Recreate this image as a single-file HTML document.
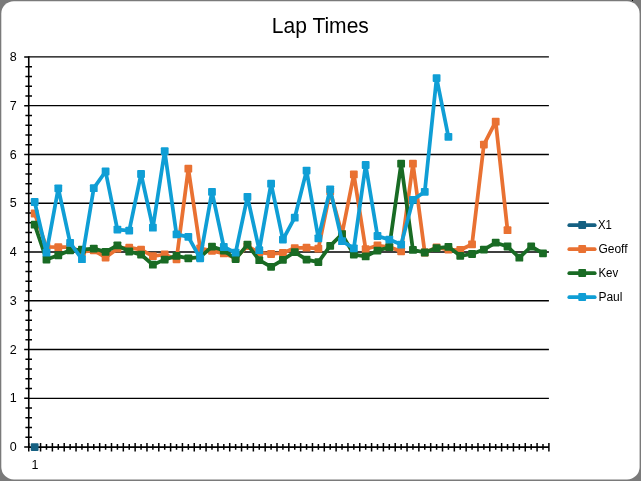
<!DOCTYPE html><html><head><meta charset="utf-8"><style>html,body{margin:0;padding:0;background:#7a7a7a;}svg{display:block;will-change:transform}text{font-family:"Liberation Sans",sans-serif;}</style></head><body>
<svg width="641" height="481" viewBox="0 0 641 481">
<rect x="0" y="0" width="641" height="481" fill="#7a7a7a"/>
<rect x="1.3" y="1.2" width="638.3" height="478.3" rx="12.5" ry="12.5" fill="#ffffff"/>
<rect x="632" y="0" width="1" height="1" fill="#000"/>
<text x="320.35" y="33" font-size="22" text-anchor="middle" textLength="97" lengthAdjust="spacingAndGlyphs" fill="#000" id="title">Lap Times</text>
<path d="M28.75 398.33H548.90M28.75 349.55H548.90M28.75 300.77H548.90M28.75 252.00H548.90M28.75 203.22H548.90M28.75 154.45H548.90M28.75 105.67H548.90M28.75 56.90H548.90" stroke="#000" stroke-width="1.4" fill="none"/>
<path d="M24.2 447.10H28.75M24.2 398.33H28.75M24.2 349.55H28.75M24.2 300.77H28.75M24.2 252.00H28.75M24.2 203.22H28.75M24.2 154.45H28.75M24.2 105.67H28.75M24.2 56.90H28.75M25.4 437.35H32.0M25.4 427.59H32.0M25.4 417.84H32.0M25.4 408.08H32.0M25.4 388.57H32.0M25.4 378.82H32.0M25.4 369.06H32.0M25.4 359.31H32.0M25.4 339.80H32.0M25.4 330.04H32.0M25.4 320.28H32.0M25.4 310.53H32.0M25.4 291.02H32.0M25.4 281.26H32.0M25.4 271.51H32.0M25.4 261.75H32.0M25.4 242.24H32.0M25.4 232.49H32.0M25.4 222.74H32.0M25.4 212.98H32.0M25.4 193.47H32.0M25.4 183.71H32.0M25.4 173.96H32.0M25.4 164.20H32.0M25.4 144.69H32.0M25.4 134.94H32.0M25.4 125.19H32.0M25.4 115.43H32.0M25.4 95.92H32.0M25.4 86.16H32.0M25.4 76.41H32.0M25.4 66.65H32.0M28.75 442.9V451.6M40.57 442.9V451.6M52.39 442.9V451.6M64.21 442.9V451.6M76.04 442.9V451.6M87.86 442.9V451.6M99.68 442.9V451.6M111.50 442.9V451.6M123.32 442.9V451.6M135.14 442.9V451.6M146.97 442.9V451.6M158.79 442.9V451.6M170.61 442.9V451.6M182.43 442.9V451.6M194.25 442.9V451.6M206.07 442.9V451.6M217.90 442.9V451.6M229.72 442.9V451.6M241.54 442.9V451.6M253.36 442.9V451.6M265.18 442.9V451.6M277.00 442.9V451.6M288.82 442.9V451.6M300.65 442.9V451.6M312.47 442.9V451.6M324.29 442.9V451.6M336.11 442.9V451.6M347.93 442.9V451.6M359.75 442.9V451.6M371.58 442.9V451.6M383.40 442.9V451.6M395.22 442.9V451.6M407.04 442.9V451.6M418.86 442.9V451.6M430.68 442.9V451.6M442.51 442.9V451.6M454.33 442.9V451.6M466.15 442.9V451.6M477.97 442.9V451.6M489.79 442.9V451.6M501.61 442.9V451.6M513.44 442.9V451.6M525.26 442.9V451.6M537.08 442.9V451.6M548.90 442.9V451.6M34.66 443.9V449.7M46.48 443.9V449.7M58.30 443.9V449.7M70.13 443.9V449.7M81.95 443.9V449.7M93.77 443.9V449.7M105.59 443.9V449.7M117.41 443.9V449.7M129.23 443.9V449.7M141.06 443.9V449.7M152.88 443.9V449.7M164.70 443.9V449.7M176.52 443.9V449.7M188.34 443.9V449.7M200.16 443.9V449.7M211.98 443.9V449.7M223.81 443.9V449.7M235.63 443.9V449.7M247.45 443.9V449.7M259.27 443.9V449.7M271.09 443.9V449.7M282.91 443.9V449.7M294.74 443.9V449.7M306.56 443.9V449.7M318.38 443.9V449.7M330.20 443.9V449.7M342.02 443.9V449.7M353.84 443.9V449.7M365.67 443.9V449.7M377.49 443.9V449.7M389.31 443.9V449.7M401.13 443.9V449.7M412.95 443.9V449.7M424.77 443.9V449.7M436.59 443.9V449.7M448.42 443.9V449.7M460.24 443.9V449.7M472.06 443.9V449.7M483.88 443.9V449.7M495.70 443.9V449.7M507.52 443.9V449.7M519.35 443.9V449.7M531.17 443.9V449.7M542.99 443.9V449.7" stroke="#000" stroke-width="1.5" fill="none"/>
<path d="M28.75 56.20V447.10H548.90" stroke="#000" stroke-width="1.6" fill="none"/>
<text x="16.6" y="451.20" font-size="12.5" text-anchor="end" fill="#000">0</text>
<text x="16.6" y="402.43" font-size="12.5" text-anchor="end" fill="#000">1</text>
<text x="16.6" y="353.65" font-size="12.5" text-anchor="end" fill="#000">2</text>
<text x="16.6" y="304.88" font-size="12.5" text-anchor="end" fill="#000">3</text>
<text x="16.6" y="256.10" font-size="12.5" text-anchor="end" fill="#000">4</text>
<text x="16.6" y="207.32" font-size="12.5" text-anchor="end" fill="#000">5</text>
<text x="16.6" y="158.55" font-size="12.5" text-anchor="end" fill="#000">6</text>
<text x="16.6" y="109.77" font-size="12.5" text-anchor="end" fill="#000">7</text>
<text x="16.6" y="61.00" font-size="12.5" text-anchor="end" fill="#000">8</text>
<text x="35" y="468.6" font-size="12.5" text-anchor="middle" fill="#000">1</text>
<rect x="30.76" y="443.20" width="7.8" height="7.8" rx="0.9" fill="#156082"/>
<polyline points="34.66,213.50 46.48,247.00 58.30,247.20 70.13,247.00 81.95,252.00 93.77,250.30 105.59,257.50 117.41,248.70 129.23,247.70 141.06,249.70 152.88,256.20 164.70,254.50 176.52,259.30 188.34,168.70 200.16,248.30 211.98,250.80 223.81,253.40 235.63,258.00 247.45,246.20 259.27,252.50 271.09,254.00 282.91,253.00 294.74,248.10 306.56,247.70 318.38,248.70 330.20,191.20 342.02,234.00 353.84,174.40 365.67,249.20 377.49,245.50 389.31,247.00 401.13,251.30 412.95,163.70 424.77,252.50 436.59,247.50 448.42,249.60 460.24,250.00 472.06,244.30 483.88,144.60 495.70,121.70 507.52,230.20" fill="none" stroke="#E97132" stroke-width="3.75" stroke-linejoin="round" stroke-linecap="round"/><rect x="30.76" y="209.60" width="7.8" height="7.8" rx="0.9" fill="#E97132"/><rect x="42.58" y="243.10" width="7.8" height="7.8" rx="0.9" fill="#E97132"/><rect x="54.40" y="243.30" width="7.8" height="7.8" rx="0.9" fill="#E97132"/><rect x="66.23" y="243.10" width="7.8" height="7.8" rx="0.9" fill="#E97132"/><rect x="78.05" y="248.10" width="7.8" height="7.8" rx="0.9" fill="#E97132"/><rect x="89.87" y="246.40" width="7.8" height="7.8" rx="0.9" fill="#E97132"/><rect x="101.69" y="253.60" width="7.8" height="7.8" rx="0.9" fill="#E97132"/><rect x="113.51" y="244.80" width="7.8" height="7.8" rx="0.9" fill="#E97132"/><rect x="125.33" y="243.80" width="7.8" height="7.8" rx="0.9" fill="#E97132"/><rect x="137.16" y="245.80" width="7.8" height="7.8" rx="0.9" fill="#E97132"/><rect x="148.98" y="252.30" width="7.8" height="7.8" rx="0.9" fill="#E97132"/><rect x="160.80" y="250.60" width="7.8" height="7.8" rx="0.9" fill="#E97132"/><rect x="172.62" y="255.40" width="7.8" height="7.8" rx="0.9" fill="#E97132"/><rect x="184.44" y="164.80" width="7.8" height="7.8" rx="0.9" fill="#E97132"/><rect x="196.26" y="244.40" width="7.8" height="7.8" rx="0.9" fill="#E97132"/><rect x="208.08" y="246.90" width="7.8" height="7.8" rx="0.9" fill="#E97132"/><rect x="219.91" y="249.50" width="7.8" height="7.8" rx="0.9" fill="#E97132"/><rect x="231.73" y="254.10" width="7.8" height="7.8" rx="0.9" fill="#E97132"/><rect x="243.55" y="242.30" width="7.8" height="7.8" rx="0.9" fill="#E97132"/><rect x="255.37" y="248.60" width="7.8" height="7.8" rx="0.9" fill="#E97132"/><rect x="267.19" y="250.10" width="7.8" height="7.8" rx="0.9" fill="#E97132"/><rect x="279.01" y="249.10" width="7.8" height="7.8" rx="0.9" fill="#E97132"/><rect x="290.84" y="244.20" width="7.8" height="7.8" rx="0.9" fill="#E97132"/><rect x="302.66" y="243.80" width="7.8" height="7.8" rx="0.9" fill="#E97132"/><rect x="314.48" y="244.80" width="7.8" height="7.8" rx="0.9" fill="#E97132"/><rect x="326.30" y="187.30" width="7.8" height="7.8" rx="0.9" fill="#E97132"/><rect x="338.12" y="230.10" width="7.8" height="7.8" rx="0.9" fill="#E97132"/><rect x="349.94" y="170.50" width="7.8" height="7.8" rx="0.9" fill="#E97132"/><rect x="361.77" y="245.30" width="7.8" height="7.8" rx="0.9" fill="#E97132"/><rect x="373.59" y="241.60" width="7.8" height="7.8" rx="0.9" fill="#E97132"/><rect x="385.41" y="243.10" width="7.8" height="7.8" rx="0.9" fill="#E97132"/><rect x="397.23" y="247.40" width="7.8" height="7.8" rx="0.9" fill="#E97132"/><rect x="409.05" y="159.80" width="7.8" height="7.8" rx="0.9" fill="#E97132"/><rect x="420.87" y="248.60" width="7.8" height="7.8" rx="0.9" fill="#E97132"/><rect x="432.69" y="243.60" width="7.8" height="7.8" rx="0.9" fill="#E97132"/><rect x="444.52" y="245.70" width="7.8" height="7.8" rx="0.9" fill="#E97132"/><rect x="456.34" y="246.10" width="7.8" height="7.8" rx="0.9" fill="#E97132"/><rect x="468.16" y="240.40" width="7.8" height="7.8" rx="0.9" fill="#E97132"/><rect x="479.98" y="140.70" width="7.8" height="7.8" rx="0.9" fill="#E97132"/><rect x="491.80" y="117.80" width="7.8" height="7.8" rx="0.9" fill="#E97132"/><rect x="503.62" y="226.30" width="7.8" height="7.8" rx="0.9" fill="#E97132"/>
<polyline points="34.66,224.70 46.48,259.50 58.30,255.30 70.13,250.30 81.95,249.70 93.77,248.60 105.59,251.80 117.41,245.30 129.23,251.50 141.06,254.60 152.88,264.70 164.70,259.60 176.52,255.80 188.34,258.30 200.16,257.20 211.98,246.60 223.81,250.50 235.63,259.10 247.45,244.60 259.27,260.20 271.09,266.80 282.91,259.80 294.74,252.10 306.56,259.60 318.38,262.10 330.20,245.80 342.02,234.20 353.84,254.60 365.67,256.40 377.49,250.60 389.31,247.20 401.13,163.70 412.95,249.90 424.77,252.50 436.59,248.10 448.42,246.80 460.24,255.80 472.06,254.00 483.88,249.60 495.70,242.70 507.52,246.50 519.35,257.70 531.17,246.50 542.99,253.30" fill="none" stroke="#196B24" stroke-width="3.75" stroke-linejoin="round" stroke-linecap="round"/><rect x="30.76" y="220.80" width="7.8" height="7.8" rx="0.9" fill="#196B24"/><rect x="42.58" y="255.60" width="7.8" height="7.8" rx="0.9" fill="#196B24"/><rect x="54.40" y="251.40" width="7.8" height="7.8" rx="0.9" fill="#196B24"/><rect x="66.23" y="246.40" width="7.8" height="7.8" rx="0.9" fill="#196B24"/><rect x="78.05" y="245.80" width="7.8" height="7.8" rx="0.9" fill="#196B24"/><rect x="89.87" y="244.70" width="7.8" height="7.8" rx="0.9" fill="#196B24"/><rect x="101.69" y="247.90" width="7.8" height="7.8" rx="0.9" fill="#196B24"/><rect x="113.51" y="241.40" width="7.8" height="7.8" rx="0.9" fill="#196B24"/><rect x="125.33" y="247.60" width="7.8" height="7.8" rx="0.9" fill="#196B24"/><rect x="137.16" y="250.70" width="7.8" height="7.8" rx="0.9" fill="#196B24"/><rect x="148.98" y="260.80" width="7.8" height="7.8" rx="0.9" fill="#196B24"/><rect x="160.80" y="255.70" width="7.8" height="7.8" rx="0.9" fill="#196B24"/><rect x="172.62" y="251.90" width="7.8" height="7.8" rx="0.9" fill="#196B24"/><rect x="184.44" y="254.40" width="7.8" height="7.8" rx="0.9" fill="#196B24"/><rect x="196.26" y="253.30" width="7.8" height="7.8" rx="0.9" fill="#196B24"/><rect x="208.08" y="242.70" width="7.8" height="7.8" rx="0.9" fill="#196B24"/><rect x="219.91" y="246.60" width="7.8" height="7.8" rx="0.9" fill="#196B24"/><rect x="231.73" y="255.20" width="7.8" height="7.8" rx="0.9" fill="#196B24"/><rect x="243.55" y="240.70" width="7.8" height="7.8" rx="0.9" fill="#196B24"/><rect x="255.37" y="256.30" width="7.8" height="7.8" rx="0.9" fill="#196B24"/><rect x="267.19" y="262.90" width="7.8" height="7.8" rx="0.9" fill="#196B24"/><rect x="279.01" y="255.90" width="7.8" height="7.8" rx="0.9" fill="#196B24"/><rect x="290.84" y="248.20" width="7.8" height="7.8" rx="0.9" fill="#196B24"/><rect x="302.66" y="255.70" width="7.8" height="7.8" rx="0.9" fill="#196B24"/><rect x="314.48" y="258.20" width="7.8" height="7.8" rx="0.9" fill="#196B24"/><rect x="326.30" y="241.90" width="7.8" height="7.8" rx="0.9" fill="#196B24"/><rect x="338.12" y="230.30" width="7.8" height="7.8" rx="0.9" fill="#196B24"/><rect x="349.94" y="250.70" width="7.8" height="7.8" rx="0.9" fill="#196B24"/><rect x="361.77" y="252.50" width="7.8" height="7.8" rx="0.9" fill="#196B24"/><rect x="373.59" y="246.70" width="7.8" height="7.8" rx="0.9" fill="#196B24"/><rect x="385.41" y="243.30" width="7.8" height="7.8" rx="0.9" fill="#196B24"/><rect x="397.23" y="159.80" width="7.8" height="7.8" rx="0.9" fill="#196B24"/><rect x="409.05" y="246.00" width="7.8" height="7.8" rx="0.9" fill="#196B24"/><rect x="420.87" y="248.60" width="7.8" height="7.8" rx="0.9" fill="#196B24"/><rect x="432.69" y="244.20" width="7.8" height="7.8" rx="0.9" fill="#196B24"/><rect x="444.52" y="242.90" width="7.8" height="7.8" rx="0.9" fill="#196B24"/><rect x="456.34" y="251.90" width="7.8" height="7.8" rx="0.9" fill="#196B24"/><rect x="468.16" y="250.10" width="7.8" height="7.8" rx="0.9" fill="#196B24"/><rect x="479.98" y="245.70" width="7.8" height="7.8" rx="0.9" fill="#196B24"/><rect x="491.80" y="238.80" width="7.8" height="7.8" rx="0.9" fill="#196B24"/><rect x="503.62" y="242.60" width="7.8" height="7.8" rx="0.9" fill="#196B24"/><rect x="515.45" y="253.80" width="7.8" height="7.8" rx="0.9" fill="#196B24"/><rect x="527.27" y="242.60" width="7.8" height="7.8" rx="0.9" fill="#196B24"/><rect x="539.09" y="249.40" width="7.8" height="7.8" rx="0.9" fill="#196B24"/>
<polyline points="34.66,202.00 46.48,252.70 58.30,188.30 70.13,242.80 81.95,259.20 93.77,188.20 105.59,171.50 117.41,229.60 129.23,230.60 141.06,174.00 152.88,227.70 164.70,151.20 176.52,234.40 188.34,236.80 200.16,258.30 211.98,191.80 223.81,247.00 235.63,252.70 247.45,196.80 259.27,250.20 271.09,183.70 282.91,239.60 294.74,217.70 306.56,170.60 318.38,238.30 330.20,189.30 342.02,241.20 353.84,248.30 365.67,165.00 377.49,236.00 389.31,239.60 401.13,244.60 412.95,199.90 424.77,191.80 436.59,78.10 448.42,136.80" fill="none" stroke="#0F9ED5" stroke-width="3.75" stroke-linejoin="round" stroke-linecap="round"/><rect x="30.76" y="198.10" width="7.8" height="7.8" rx="0.9" fill="#0F9ED5"/><rect x="42.58" y="248.80" width="7.8" height="7.8" rx="0.9" fill="#0F9ED5"/><rect x="54.40" y="184.40" width="7.8" height="7.8" rx="0.9" fill="#0F9ED5"/><rect x="66.23" y="238.90" width="7.8" height="7.8" rx="0.9" fill="#0F9ED5"/><rect x="78.05" y="255.30" width="7.8" height="7.8" rx="0.9" fill="#0F9ED5"/><rect x="89.87" y="184.30" width="7.8" height="7.8" rx="0.9" fill="#0F9ED5"/><rect x="101.69" y="167.60" width="7.8" height="7.8" rx="0.9" fill="#0F9ED5"/><rect x="113.51" y="225.70" width="7.8" height="7.8" rx="0.9" fill="#0F9ED5"/><rect x="125.33" y="226.70" width="7.8" height="7.8" rx="0.9" fill="#0F9ED5"/><rect x="137.16" y="170.10" width="7.8" height="7.8" rx="0.9" fill="#0F9ED5"/><rect x="148.98" y="223.80" width="7.8" height="7.8" rx="0.9" fill="#0F9ED5"/><rect x="160.80" y="147.30" width="7.8" height="7.8" rx="0.9" fill="#0F9ED5"/><rect x="172.62" y="230.50" width="7.8" height="7.8" rx="0.9" fill="#0F9ED5"/><rect x="184.44" y="232.90" width="7.8" height="7.8" rx="0.9" fill="#0F9ED5"/><rect x="196.26" y="254.40" width="7.8" height="7.8" rx="0.9" fill="#0F9ED5"/><rect x="208.08" y="187.90" width="7.8" height="7.8" rx="0.9" fill="#0F9ED5"/><rect x="219.91" y="243.10" width="7.8" height="7.8" rx="0.9" fill="#0F9ED5"/><rect x="231.73" y="248.80" width="7.8" height="7.8" rx="0.9" fill="#0F9ED5"/><rect x="243.55" y="192.90" width="7.8" height="7.8" rx="0.9" fill="#0F9ED5"/><rect x="255.37" y="246.30" width="7.8" height="7.8" rx="0.9" fill="#0F9ED5"/><rect x="267.19" y="179.80" width="7.8" height="7.8" rx="0.9" fill="#0F9ED5"/><rect x="279.01" y="235.70" width="7.8" height="7.8" rx="0.9" fill="#0F9ED5"/><rect x="290.84" y="213.80" width="7.8" height="7.8" rx="0.9" fill="#0F9ED5"/><rect x="302.66" y="166.70" width="7.8" height="7.8" rx="0.9" fill="#0F9ED5"/><rect x="314.48" y="234.40" width="7.8" height="7.8" rx="0.9" fill="#0F9ED5"/><rect x="326.30" y="185.40" width="7.8" height="7.8" rx="0.9" fill="#0F9ED5"/><rect x="338.12" y="237.30" width="7.8" height="7.8" rx="0.9" fill="#0F9ED5"/><rect x="349.94" y="244.40" width="7.8" height="7.8" rx="0.9" fill="#0F9ED5"/><rect x="361.77" y="161.10" width="7.8" height="7.8" rx="0.9" fill="#0F9ED5"/><rect x="373.59" y="232.10" width="7.8" height="7.8" rx="0.9" fill="#0F9ED5"/><rect x="385.41" y="235.70" width="7.8" height="7.8" rx="0.9" fill="#0F9ED5"/><rect x="397.23" y="240.70" width="7.8" height="7.8" rx="0.9" fill="#0F9ED5"/><rect x="409.05" y="196.00" width="7.8" height="7.8" rx="0.9" fill="#0F9ED5"/><rect x="420.87" y="187.90" width="7.8" height="7.8" rx="0.9" fill="#0F9ED5"/><rect x="432.69" y="74.20" width="7.8" height="7.8" rx="0.9" fill="#0F9ED5"/><rect x="444.52" y="132.90" width="7.8" height="7.8" rx="0.9" fill="#0F9ED5"/>
<path d="M569.3 225.20H594.7" stroke="#156082" stroke-width="3.75" stroke-linecap="round"/>
<rect x="578.30" y="221.10" width="7.8" height="7.8" rx="0.9" fill="#156082"/>
<text x="597.9" y="229.45" font-size="12" textLength="13.9" lengthAdjust="spacingAndGlyphs" fill="#000">X1</text>
<path d="M569.3 249.20H594.7" stroke="#E97132" stroke-width="3.75" stroke-linecap="round"/>
<rect x="578.30" y="245.10" width="7.8" height="7.8" rx="0.9" fill="#E97132"/>
<text x="598.4" y="253.45" font-size="12" fill="#000">Geoff</text>
<path d="M569.3 273.20H594.7" stroke="#196B24" stroke-width="3.75" stroke-linecap="round"/>
<rect x="578.30" y="269.10" width="7.8" height="7.8" rx="0.9" fill="#196B24"/>
<text x="598.4" y="277.45" font-size="12" textLength="19.8" lengthAdjust="spacingAndGlyphs" fill="#000">Kev</text>
<path d="M569.3 297.20H594.7" stroke="#0F9ED5" stroke-width="3.75" stroke-linecap="round"/>
<rect x="578.30" y="293.10" width="7.8" height="7.8" rx="0.9" fill="#0F9ED5"/>
<text x="598.4" y="301.45" font-size="12" fill="#000">Paul</text>
</svg></body></html>
